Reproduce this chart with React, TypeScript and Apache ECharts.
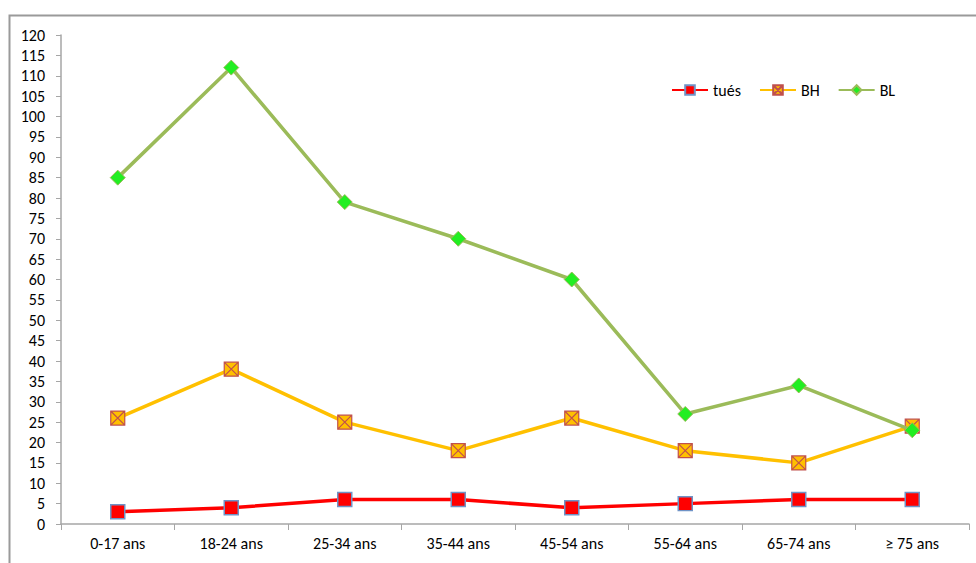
import React, { useEffect, useRef } from "react";
import * as echarts from "echarts";

const categories = ["0-17 ans", "18-24 ans", "25-34 ans", "35-44 ans", "45-54 ans", "55-64 ans", "65-74 ans", "≥ 75 ans"];
const tues = [3, 4, 6, 6, 4, 5, 6, 6];
const bh = [26, 38, 25, 18, 26, 18, 15, 24];
const bl = [85, 112, 79, 70, 60, 27, 34, 23];

const FONT = "Carlito, Lato, 'Open Sans', sans-serif";

export default function App() {
  const ref = useRef<HTMLDivElement>(null);
  useEffect(() => {
    const chart = echarts.init(ref.current!, null, { renderer: "svg" });
    chart.setOption({
      animation: false,
      backgroundColor: "#ffffff",
      textStyle: { fontFamily: FONT },
      graphic: [
        {
          type: "rect",
          left: 7,
          top: 13,
          shape: { width: 1000, height: 600 },
          style: { fill: "none", stroke: "#9a9a9a", lineWidth: 2 },
          z: -1,
        },
      ],
      grid: { left: 61, top: 35, right: 7, bottom: 39, containLabel: false },
      legend: {
        left: 666,
        top: 77,
        itemWidth: 36,
        itemHeight: 12,
        itemGap: 18,
        itemTextGap: 4,
        textStyle: { fontFamily: FONT, fontSize: 16, color: "#000" },
        data: ["tués", "BH", "BL"],
      },
      xAxis: {
        type: "category",
        data: categories,
        boundaryGap: true,
        axisLine: { lineStyle: { color: "#a6a6a6", width: 1.5 } },
        axisTick: { show: true, length: 6, lineStyle: { color: "#a6a6a6" } },
        axisLabel: { color: "#000", fontSize: 16, fontFamily: FONT, margin: 11 },
        splitLine: { show: false },
      },
      yAxis: {
        type: "value",
        min: 0,
        max: 120,
        interval: 5,
        axisLine: { show: true, lineStyle: { color: "#a6a6a6", width: 1.5 } },
        axisTick: { show: true, length: 5, lineStyle: { color: "#a6a6a6" } },
        axisLabel: { color: "#000", fontSize: 16, fontFamily: FONT, margin: 16 },
        splitLine: { show: false },
      },
      series: [
        {
          name: "tués",
          type: "line",
          data: tues,
          symbol: "rect",
          symbolSize: 14,
          lineStyle: { color: "#FF0000", width: 3.5 },
          itemStyle: { color: "#FF0000", borderColor: "#6f93c6", borderWidth: 1.5 },
          z: 2,
        },
        {
          name: "BH",
          type: "line",
          data: bh,
          symbol: "path://M0 0 L10 0 L10 10 L0 10 Z M0.5 0.5 L9.5 9.5 M9.5 0.5 L0.5 9.5",
          symbolSize: 14,
          lineStyle: { color: "#FFC000", width: 3.5 },
          itemStyle: { color: "#FFC000", borderColor: "#C0504D", borderWidth: 1.2 },
          z: 3,
        },
        {
          name: "BL",
          type: "line",
          data: bl,
          symbol: "diamond",
          symbolSize: 15,
          lineStyle: { color: "#9BBB59", width: 3.5 },
          itemStyle: { color: "#22ee22", borderColor: "#9BBB59", borderWidth: 1 },
          z: 4,
        },
      ],
    });
    return () => chart.dispose();
  }, []);
  return (
    <div
      ref={ref}
      style={{ position: "fixed", left: 0, top: 0, width: 976, height: 563 }}
    />
  );
}
